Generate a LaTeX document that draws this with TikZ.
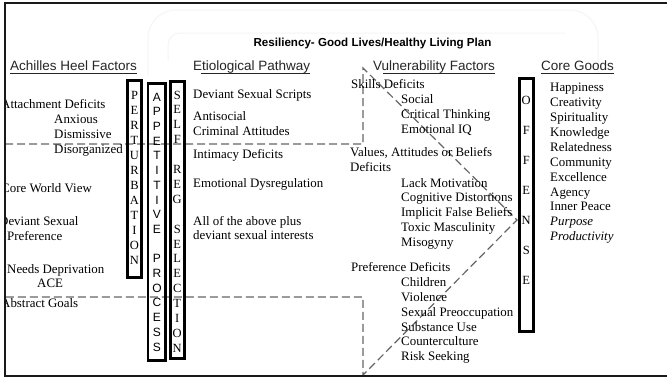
\documentclass[tikz,border=0pt]{standalone}
\usepackage{fontspec}
\setmainfont{Liberation Serif}
\setsansfont{Liberation Sans}
\begin{document}
\begin{tikzpicture}[x=1pt,y=-1pt,
  body/.style={font=\fontsize{12.9}{15}\selectfont, anchor=base west, inner sep=0pt, text=black},
  hdr/.style={font=\sffamily\fontsize{13.5}{15}\selectfont, anchor=base west, inner sep=0pt, text=black!85},
  uline/.style={line width=0.9pt, black!85},
  letter/.style={font=\fontsize{12.5}{14}\selectfont, inner sep=0pt},
  sletter/.style={font=\sffamily\fontsize{12}{14}\selectfont, inner sep=0pt},
  stackbox/.style={draw, line width=2.8pt, black, inner sep=0pt},
  divider/.style={dash pattern=on 8pt off 4pt, line width=1.2pt, black!60},
  frame/.style={line width=2.5pt, black!90}
]
\useasboundingbox (0,0) rectangle (667,378);
\fill[white] (0,0) rectangle (667,378);
% faint background panels
\draw[black!4, line width=1pt, rounded corners=28pt] (148,75) -- (148,10) -- (598,10) -- (598,75);
\draw[black!4, line width=1pt, rounded corners=12pt] (168,60) -- (168,33) -- (565,33);

% title
\node[font=\sffamily\bfseries\fontsize{11.6}{13}\selectfont, anchor=base, inner sep=0pt] (title) at (372.5,46) {Resiliency- Good Lives/Healthy Living Plan};

% headers
\node[hdr] (hAH) at (10,70.5) {Achilles Heel Factors};
\node[hdr] (hEP) at (193,70.5) {Etiological Pathway};
\node[hdr] (hVF) at (373,70.5) {Vulnerability Factors};
\node[hdr] (hCG) at (541,70.5) {Core Goods};
\draw[uline] ([yshift=-2.5pt]hAH.base west) -- ([yshift=-2.5pt]hAH.base east);
\draw[uline] ([xshift=8pt,yshift=-2.5pt]hEP.base west) -- ([yshift=-2.5pt]hEP.base east);
\draw[uline] ([xshift=10pt,yshift=-2.5pt]hVF.base west) -- ([yshift=-2.5pt]hVF.base east);
\draw[uline] ([yshift=-2.5pt]hCG.base west) -- ([yshift=-2.5pt]hCG.base east);

% dashed divider
\coordinate (dL1) at (5,144);
\coordinate (dC1) at (363,144);
\coordinate (dT) at (363,68);
\coordinate (tip) at (517,220);
\coordinate (dB) at (363,375);
\coordinate (dC2) at (363,297);
\coordinate (dL2) at (5,297);
\draw[divider] (dL1) -- (dC1) -- (dT) -- (tip) -- (dB) -- (dC2) -- (dL2);

% Achilles heel factors
\node[body] (a1) at (1,108.3) {Attachment Deficits};
\node[body] (a2) at (54,123.3) {Anxious};
\node[body] (a3) at (54,138.3) {Dismissive};
\node[body] (a4) at (54,153.3) {Disorganized};
\node[body] (a5) at (1,192.5) {Core World View};
\node[body] (a6) at (-1,225.5) {Deviant Sexual};
\node[body] (a7) at (7,240) {Preference};
\node[body] (a8) at (7,273.3) {Needs Deprivation};
\node[body] (a9) at (37,287.3) {ACE};
\node[body] (a10) at (1,307.7) {Abstract Goals};

% Etiological pathway
\node[body] (e1) at (193,98.3) {Deviant Sexual Scripts};
\node[body] (e2) at (193,120) {Antisocial};
\node[body] (e3) at (193,135) {Criminal Attitudes};
\node[body] (e4) at (193,158.3) {Intimacy Deficits};
\node[body] (e5) at (193,187.5) {Emotional Dysregulation};
\node[body] (e6) at (193,225) {All of the above plus};
\node[body] (e7) at (193,239.5) {deviant sexual interests};

% Vulnerability factors
\node[body] (v1) at (351,88.3) {Skills Deficits};
\node[body] (v2) at (401,103) {Social};
\node[body] (v3) at (401,118) {Critical Thinking};
\node[body] (v4) at (401,133) {Emotional IQ};
\node[body] (v5) at (350,156.7) {Values, Attitudes or Beliefs};
\node[body] (v6) at (350,171.7) {Deficits};
\node[body] (v7) at (401,187) {Lack Motivation};
\node[body] (v8) at (401,201.7) {Cognitive Distortions};
\node[body] (v9) at (401,216.7) {Implicit False Beliefs};
\node[body] (v10) at (401,231.7) {Toxic Masculinity};
\node[body] (v11) at (401,246.7) {Misogyny};
\node[body] (v12) at (351,271.7) {Preference Deficits};
\node[body] (v13) at (401,286.7) {Children};
\node[body] (v14) at (401,301.7) {Violence};
\node[body] (v15) at (401,316.3) {Sexual Preoccupation};
\node[body] (v16) at (401,331) {Substance Use};
\node[body] (v17) at (401,345.7) {Counterculture};
\node[body] (v18) at (401,360.5) {Risk Seeking};

% Core goods
\foreach \g [count=\i from 0] in {Happiness,Creativity,Spirituality,Knowledge,Relatedness,Community,Excellence,Agency,Inner Peace}
  \node[body] (cg\i) at (550,91.7+14.9*\i) {\g};
\node[body, font=\itshape\fontsize{12.9}{15}\selectfont] (cg9) at (550,225.8) {Purpose};
\node[body, font=\itshape\fontsize{12.9}{15}\selectfont] (cg10) at (550,240.7) {Productivity};

% vertical boxes
\node[stackbox, minimum width=14.2pt, minimum height=197.2pt] (pbox) at (134.5,179) {};
\node[stackbox, minimum width=17.6pt, minimum height=277.2pt] (abox) at (156.8,222) {};
\node[stackbox, minimum width=13.7pt, minimum height=277.2pt] (sbox) at (177.25,220) {};
\node[stackbox, minimum width=13.7pt, minimum height=253.2pt] (obox) at (526.25,205) {};

\foreach \l [count=\i from 0] in {P,E,R,T,U,R,B,A,T,I,O,N}
  \node[letter] (pert\i) at (134.5,95+15*\i) {\l};
\foreach \l/\i in {A/0,P/1,P/2,E/3,T/4,I/5,T/6,I/7,V/8,E/9,P/11,R/12,O/13,C/14,E/15,S/16,S/17}
  \node[sletter] (app\i) at (157,97+14.7*\i) {\l};
\foreach \l/\i in {S/0,E/1,L/2,F/3,R/5,E/6,G/7,S/9,E/10,L/11,E/12,C/13,T/14,I/15,O/16,N/17}
  \node[letter] (srs\i) at (177.25,95+14.9*\i) {\l};
\foreach \l [count=\i from 0] in {O,F,F,E,N,S,E}
  \node[letter] (off\i) at (526.25,100+30*\i) {\l};

% frame
\fill[white] (0,0) rectangle (4,378);
\draw[frame] (667,3) -- (5,3) -- (5,376) -- (667,376);
\end{tikzpicture}
\end{document}
